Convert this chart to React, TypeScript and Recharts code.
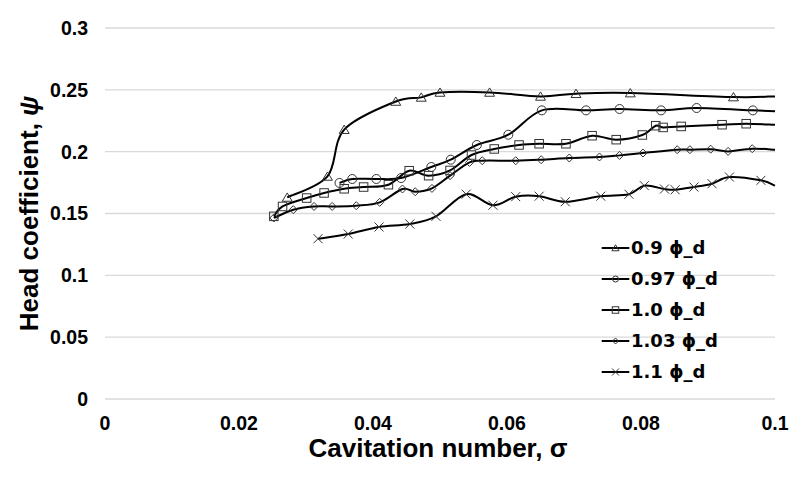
import React from 'react';
import { LineChart, Line, XAxis, YAxis, CartesianGrid, Legend, Label } from 'recharts';

// ---- data ----
const sigma09 = [0.0272, 0.0332, 0.0357, 0.0434, 0.0472, 0.05, 0.0574, 0.065, 0.0703, 0.0784, 0.0938, 0.1];
const psi09 = [0.163, 0.18, 0.2178, 0.2406, 0.2439, 0.2479, 0.2479, 0.2447, 0.2469, 0.2474, 0.2442, 0.2447];

const sigma097 = [0.035, 0.0369, 0.0405, 0.0442, 0.0487, 0.0516, 0.0555, 0.0602, 0.0652, 0.0718, 0.0768, 0.083, 0.0883, 0.0967, 0.1];
const psi097 = [0.1747, 0.1779, 0.1779, 0.1787, 0.1876, 0.1935, 0.2054, 0.2137, 0.2334, 0.2334, 0.2345, 0.2334, 0.2353, 0.2334, 0.2326];

const sigma10 = [0.0252, 0.0265, 0.0301, 0.0327, 0.0357, 0.0386, 0.0423, 0.0454, 0.0483, 0.0515, 0.0547, 0.0581, 0.0618, 0.0648, 0.0688, 0.0727, 0.0763, 0.0802, 0.0822, 0.0833, 0.086, 0.0921, 0.0957, 0.1];
const psi10 = [0.1477, 0.1557, 0.1625, 0.1666, 0.17, 0.1714, 0.1733, 0.1846, 0.1806, 0.1848, 0.1973, 0.2022, 0.2054, 0.2064, 0.2064, 0.2129, 0.2097, 0.2135, 0.221, 0.2196, 0.2204, 0.2218, 0.2226, 0.2218];

const sigma103 = [0.0252, 0.0281, 0.0312, 0.0339, 0.0375, 0.041, 0.0444, 0.0463, 0.0488, 0.0515, 0.0544, 0.0563, 0.0613, 0.0651, 0.0693, 0.0738, 0.0768, 0.0803, 0.0854, 0.0873, 0.0904, 0.093, 0.0966, 0.1];
const psi103 = [0.1464, 0.1531, 0.1557, 0.1557, 0.1563, 0.159, 0.1698, 0.1676, 0.1703, 0.1806, 0.1913, 0.1927, 0.1927, 0.1935, 0.1949, 0.1957, 0.197, 0.1989, 0.2016, 0.2016, 0.202, 0.2002, 0.2024, 0.2016];

const sigma11 = [0.0318, 0.0363, 0.0409, 0.0455, 0.0494, 0.0539, 0.0579, 0.0613, 0.0648, 0.0687, 0.074, 0.0782, 0.0805, 0.0835, 0.0851, 0.0879, 0.0906, 0.0932, 0.0979, 0.1];
const psi11 = [0.1296, 0.1334, 0.1391, 0.1415, 0.1477, 0.1656, 0.1567, 0.1636, 0.164, 0.1595, 0.164, 0.1656, 0.1725, 0.1698, 0.1692, 0.1714, 0.1741, 0.1795, 0.1768, 0.1725];

const seriesNames = ['0.9 \u03d5_d', '0.97 \u03d5_d', '1.0 \u03d5_d', '1.03 \u03d5_d', '1.1 \u03d5_d'];
const xTicks = [0, 0.02, 0.04, 0.06, 0.08, 0.1];
const yTicks = [0, 0.05, 0.1, 0.15, 0.2, 0.25, 0.3];

const toRows = (xs: number[], ys: number[]) => xs.map((x, i) => ({ x, y: ys[i] }));

type Shape = 'triangle' | 'circle' | 'square' | 'diamond' | 'cross';

const series: { name: string; shape: Shape; data: { x: number; y: number }[] }[] = [
  { name: seriesNames[0], shape: 'triangle', data: toRows(sigma09, psi09) },
  { name: seriesNames[1], shape: 'circle', data: toRows(sigma097, psi097) },
  { name: seriesNames[2], shape: 'square', data: toRows(sigma10, psi10) },
  { name: seriesNames[3], shape: 'diamond', data: toRows(sigma103, psi103) },
  { name: seriesNames[4], shape: 'cross', data: toRows(sigma11, psi11) },
];

// Excel-like smooth curve (Catmull-Rom style)
function excelCurve(context: any) {
  let pts: number[][] = [];
  return {
    areaStart() {},
    areaEnd() {},
    lineStart() {
      pts = [];
    },
    point(x: number, y: number) {
      pts.push([+x, +y]);
    },
    lineEnd() {
      const n = pts.length;
      if (!n) return;
      context.moveTo(pts[0][0], pts[0][1]);
      if (n === 1) return;
      const t = 1 / 6;
      for (let i = 0; i < n - 1; i++) {
        const p0 = pts[i - 1] || pts[i];
        const p1 = pts[i];
        const p2 = pts[i + 1];
        const p3 = pts[i + 2] || pts[i + 1];
        const c1x = p1[0] + (p2[0] - p0[0]) * t;
        const c1y = p1[1] + (p2[1] - p0[1]) * t;
        const c2x = p2[0] - (p3[0] - p1[0]) * t;
        const c2y = p2[1] - (p3[1] - p1[1]) * t;
        context.bezierCurveTo(c1x, c1y, c2x, c2y, p2[0], p2[1]);
      }
    },
  };
}

const MARK_STROKE = '#333';

function Marker({ shape, cx, cy, s }: { shape: Shape; cx: number; cy: number; s: number }) {
  const h = s / 2;
  const common = { fill: 'none', stroke: MARK_STROKE, strokeWidth: 1 };
  switch (shape) {
    case 'triangle':
      return <path d={`M${cx},${cy - h} L${cx + h * 1.1},${cy + h * 0.85} L${cx - h * 1.1},${cy + h * 0.85} Z`} {...common} />;
    case 'circle':
      return <circle cx={cx} cy={cy} r={h} {...common} />;
    case 'square':
      return <rect x={cx - h} y={cy - h} width={s} height={s} {...common} />;
    case 'diamond':
      return <path d={`M${cx},${cy - h} L${cx + h},${cy} L${cx},${cy + h} L${cx - h},${cy} Z`} {...common} />;
    default:
      return <path d={`M${cx - h},${cy - h} L${cx + h},${cy + h} M${cx + h},${cy - h} L${cx - h},${cy + h}`} {...common} />;
  }
}

const dotSize: Record<Shape, number> = { triangle: 9, circle: 9, square: 8.5, diamond: 8, cross: 9 };

const makeDot = (shape: Shape) => (props: any) => {
  const { cx, cy, index, payload } = props;
  if (cx == null || cy == null || payload.x >= 0.0999) return <g key={`d${index}`} />;
  return (
    <g key={`d${index}`}>
      <Marker shape={shape} cx={cx} cy={cy} s={dotSize[shape]} />
    </g>
  );
};

const legendMarkSize: Record<Shape, number> = { triangle: 6.5, circle: 6, square: 6.5, diamond: 6, cross: 7 };

const renderLegend = () => (
  <div style={{ fontFamily: '"DejaVu Sans", sans-serif', fontWeight: 'bold', fontSize: 18, color: '#000' }}>
    {series.map((s) => (
      <div key={s.name} style={{ display: 'flex', alignItems: 'center', height: 30.8 }}>
        <svg width={31} height={20} style={{ display: 'block' }}>
          <line x1={1.7} x2={29.3} y1={10} y2={10} stroke="#000" strokeWidth={2} />
          <Marker shape={s.shape} cx={15.5} cy={10} s={legendMarkSize[s.shape]} />
        </svg>
        <span style={{ whiteSpace: 'nowrap', lineHeight: 1 }}>{s.name}</span>
      </div>
    ))}
  </div>
);

const tickStyle = { fontFamily: '"Liberation Sans", Arial, sans-serif', fontWeight: 'bold', fontSize: 19.5, fill: '#000' };
const titleFont = '"Liberation Sans", Arial, sans-serif';

export default function App() {
  return (
    <div style={{ position: 'absolute', left: 0, top: 0, width: 801, height: 481, background: '#fff' }}>
      <LineChart width={801} height={481} margin={{ top: 28, right: 26, bottom: 0, left: 0 }}>
        <CartesianGrid vertical={false} stroke="#d9d9d9" strokeWidth={1.3} />
        <XAxis
          type="number"
          dataKey="x"
          domain={[0, 0.1]}
          ticks={xTicks}
          height={82}
          axisLine={false}
          tickLine={false}
          tickSize={0}
          tickMargin={17}
          tick={tickStyle}
          interval={0}
          allowDuplicatedCategory={false}
        >
          <Label
            content={(p: any) => {
              const vb = p.viewBox || { x: 105, y: 399, width: 670 };
              return (
                <text x={vb.x + vb.width / 2 - 2} y={vb.y + 58} textAnchor="middle" fontFamily={titleFont} fontWeight="bold" fontSize={26} fill="#000">
                  Cavitation number, σ
                </text>
              );
            }}
          />
        </XAxis>
        <YAxis
          type="number"
          domain={[0, 0.3]}
          ticks={yTicks}
          width={105}
          axisLine={false}
          tickLine={false}
          tickSize={0}
          tickMargin={17}
          tick={tickStyle}
          interval={0}
        >
          <Label
            content={(p: any) => {
              const vb = p.viewBox || { x: 0, y: 28, width: 105, height: 371 };
              const cx = 29;
              const cy = vb.y + vb.height / 2;
              return (
                <text x={cx} y={cy} transform={`rotate(-90, ${cx}, ${cy})`} textAnchor="middle" dominantBaseline="central" fontFamily={titleFont} fontWeight="bold" fontSize={26} fill="#000">
                  Head coefficient, <tspan fontStyle="italic">ψ</tspan>
                </text>
              );
            }}
          />
        </YAxis>
        {series.map((s) => (
          <Line
            key={s.name}
            name={s.name}
            data={s.data}
            dataKey="y"
            type={excelCurve as any}
            stroke="#000"
            strokeWidth={2}
            dot={makeDot(s.shape)}
            activeDot={false}
            isAnimationActive={false}
          />
        ))}
        <Legend
          layout="vertical"
          align="center"
          verticalAlign="middle"
          content={renderLegend}
          wrapperStyle={{ left: 600, top: 233, width: 160 }}
        />
      </LineChart>
    </div>
  );
}
